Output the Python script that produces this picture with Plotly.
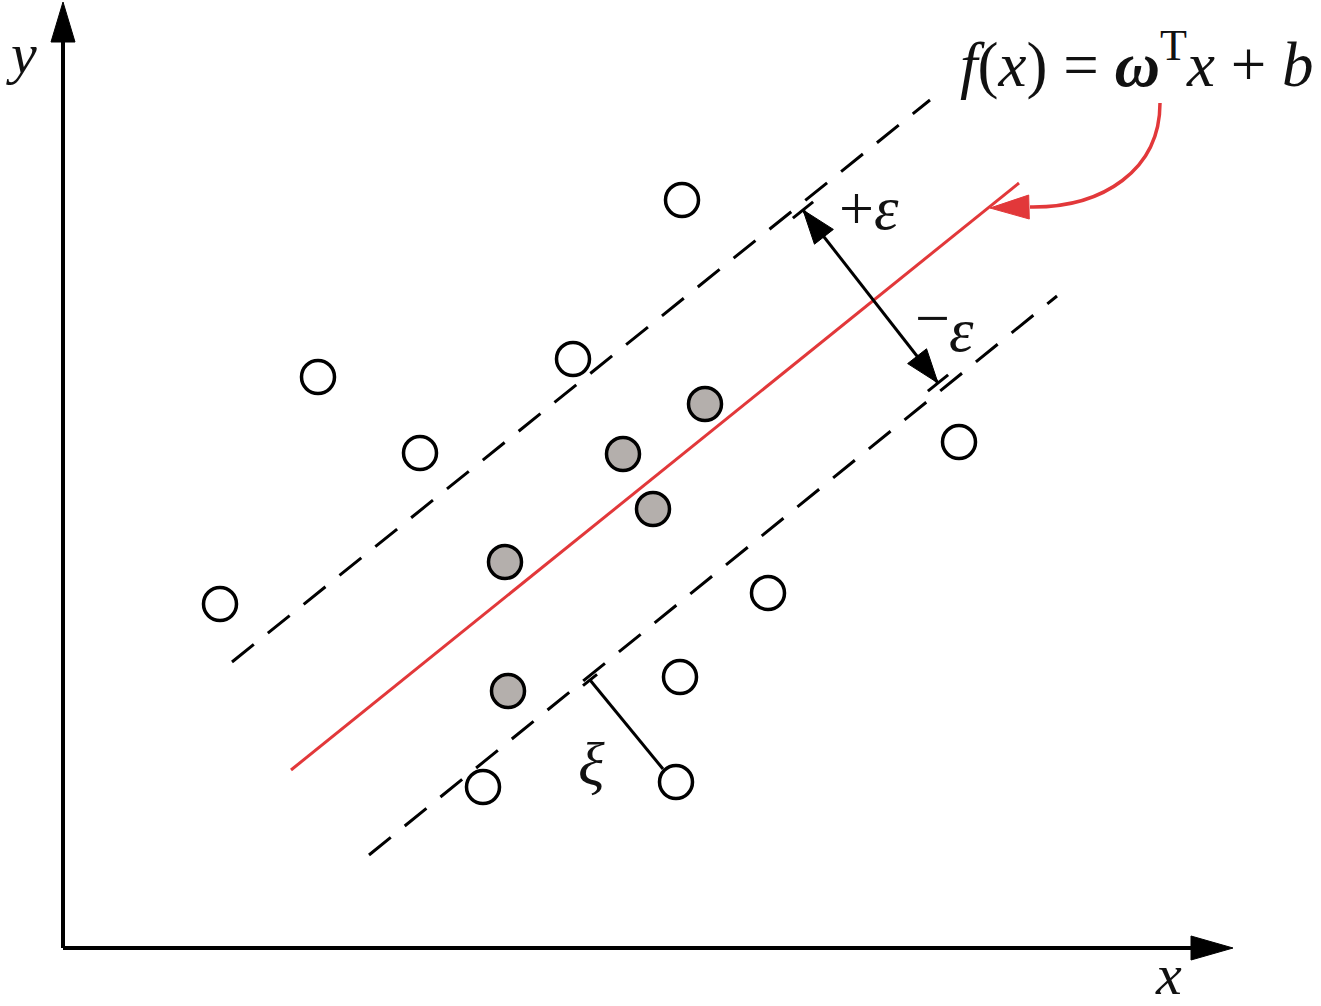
import numpy as np
import plotly.graph_objects as go

# ---- data (diagram coordinates, origin at the axes corner) ----
open_x = [619, 255, 510, 357, 157, 896, 705, 617, 420, 613]
open_y = [748, 571, 589, 495, 344, 506, 355, 271, 161, 166]
sv_x = [642, 560, 590, 442, 445]
sv_y = [544, 494, 439, 386, 257]

fit_line = [(228, 178), (956, 765)]
upper_margin = [(169, 286), (867, 848)]
lower_margin = [(306, 93), (994, 652)]
eps_arrow = [(740, 738), (875, 565)]
xi_seg = [(527, 268), (600, 179)]

RED = "#e2383a"
FONT = "Liberation Serif"

fig = go.Figure()

def seg(p, q, color="black", width=3, dash=None):
    fig.add_shape(type="line", x0=p[0], y0=p[1], x1=q[0], y1=q[1], xref="x", yref="y",
                  line=dict(color=color, width=width, dash=dash), layer="below")

def head(tip, base_dir, length, half, color="black"):
    t = np.array(tip, float); b = np.array(base_dir, float)
    d = (b - t) / np.linalg.norm(b - t)
    n = np.array([-d[1], d[0]])
    p1 = t + d * length + n * half
    p2 = t + d * length - n * half
    path = f"M {t[0]},{t[1]} L {p1[0]},{p1[1]} L {p2[0]},{p2[1]} Z"
    fig.add_shape(type="path", path=path, xref="x", yref="y",
                  fillcolor=color, line=dict(color=color, width=1))

def tick(center, direction, half, width=3):
    c = np.array(center, float); d = np.array(direction, float)
    d = d / np.linalg.norm(d)
    seg(tuple(c - d * half), tuple(c + d * half), width=width)

# axes
seg((0, 0), (0, 910), width=4)
seg((0, 0), (1132, 0), width=4)
head((0, 946), (0, 0), 40, 12)
head((1170, 0), (0, 0), 42, 12)

# regression line and epsilon tube
seg(*fit_line, color=RED, width=3)
seg(*upper_margin, width=3, dash="28px,18px")
seg(*lower_margin, width=3, dash="28px,18px")

# epsilon arrow
seg(*eps_arrow, width=3)
head(eps_arrow[0], eps_arrow[1], 34, 12)
head(eps_arrow[1], eps_arrow[0], 34, 12)
mdir = (upper_margin[1][0] - upper_margin[0][0], upper_margin[1][1] - upper_margin[0][1])
tick(eps_arrow[0], mdir, 13)
tick(eps_arrow[1], mdir, 13)

# xi slack
seg(*xi_seg, width=3)
tick(xi_seg[0], mdir, 9)

# red curved pointer
fig.add_shape(type="path", path="M 1097,845 C 1097,778 1040,740 967,741",
              xref="x", yref="y", line=dict(color=RED, width=3.5))
head((927, 740), (967, 741), 39, 12, color=RED)

# points
fig.add_trace(go.Scatter(x=open_x, y=open_y, mode="markers",
                         marker=dict(size=33, color="white", line=dict(color="black", width=3.5)),
                         hoverinfo="skip", showlegend=False))
fig.add_trace(go.Scatter(x=sv_x, y=sv_y, mode="markers",
                         marker=dict(size=33, color="#b4afac", line=dict(color="black", width=3.5)),
                         hoverinfo="skip", showlegend=False))

def text(x, y, s, size):
    fig.add_annotation(x=x, y=y, xref="x", yref="y", text=s, showarrow=False,
                       font=dict(family=FONT, size=size, color="#111"))

text(-42, 895, "<i>y</i>", 58)
text(1105, -26, "<i>x</i>", 58)
text(806, 740, "+<i>ε</i>", 62)
text(869, 630, "−", 62)
text(898, 618, "<i>ε</i>", 62)
text(528, 184, "<i>ξ</i>", 62)
text(1073, 888, "<i>f</i>(<i>x</i>) = <b><i>ω</i></b><sup>T</sup><i>x</i> + <i>b</i>", 63)

fig.update_layout(
    width=1321, height=1006,
    margin=dict(l=0, r=0, t=0, b=0),
    paper_bgcolor="white", plot_bgcolor="white",
    xaxis=dict(range=[-63, 1258], visible=False, fixedrange=True),
    yaxis=dict(range=[-58, 948], visible=False, fixedrange=True),
)
fig.write_html("out.html", config={"displayModeBar": False},
               post_script="document.body.style.margin='0';document.body.style.overflow='hidden';")
